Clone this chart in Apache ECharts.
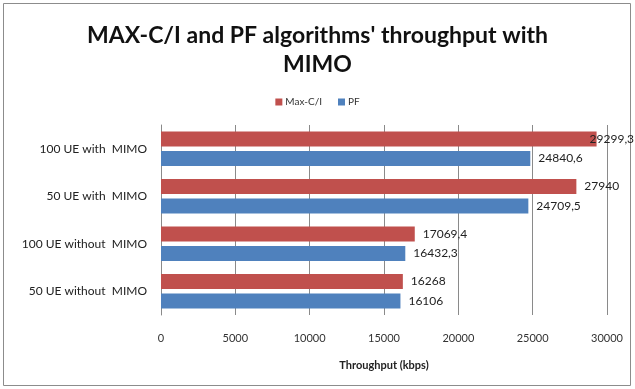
<!DOCTYPE html>
<html>
<head>
<meta charset="utf-8">
<script src="https://cdn.jsdelivr.net/npm/echarts@6/dist/echarts.min.js"></script>
<style>
  html, body { margin: 0; padding: 0; background: #fff; }
  #chart { width: 635px; height: 389px; }
</style>
</head>
<body>
<div id="chart"></div>
<script>
// Scenario categories, listed bottom to top along the value bars
const categories = ['50 UE without  MIMO', '100 UE without  MIMO', '50 UE with  MIMO', '100 UE with  MIMO'];
// Throughput per scenario (kbps)
const maxCI = [16268, 17069.4, 27940, 29299.3];
const pf = [16106, 16432.3, 24709.5, 24840.6];
const xTicks = [0, 5000, 10000, 15000, 20000, 25000, 30000];

const FONT = 'Lato, "Open Sans", sans-serif';
const fmt = v => String(v).replace('.', ',');

function labelled(values, topIndex) {
  return values.map((v, i) => {
    const item = { value: v };
    // the longest bar's label is pulled back over the bar end to stay in frame
    if (i === topIndex) item.label = { offset: [-15, 0] };
    return item;
  });
}

const valueLabel = {
  show: true, position: 'right', distance: 8,
  fontFamily: FONT, fontSize: 12, color: '#222',
  formatter: p => fmt(p.value)
};

const chart = echarts.init(document.getElementById('chart'));
chart.setOption({
  animation: false,
  backgroundColor: '#fff',
  title: {
    text: "MAX-C/I and PF algorithms' throughput with\nMIMO",
    left: 'center',
    top: 16,
    textStyle: { fontFamily: FONT, fontSize: 23, fontWeight: 'bold', color: '#111', lineHeight: 29 }
  },
  legend: {
    data: ['Max-C/I', 'PF'],
    top: 92,
    left: 'center',
    itemWidth: 7,
    itemHeight: 7,
    itemGap: 16,
    icon: 'rect',
    textStyle: { fontFamily: FONT, fontSize: 10, color: '#333', padding: [0, 0, 0, -2] }
  },
  grid: { left: 161, right: 28, top: 125, bottom: 74 },
  xAxis: {
    type: 'value',
    min: 0,
    max: xTicks[xTicks.length - 1],
    interval: xTicks[1] - xTicks[0],
    name: 'Throughput (kbps)',
    nameLocation: 'middle',
    nameGap: 45,
    nameTextStyle: { fontFamily: FONT, fontSize: 11, fontWeight: 'bold', color: '#222' },
    axisLine: { show: false },
    axisTick: { show: false },
    axisLabel: { fontFamily: FONT, fontSize: 11, color: '#333', margin: 18, formatter: v => String(v) },
    splitLine: { show: true, lineStyle: { color: '#8a8a8a', width: 1 } }
  },
  yAxis: {
    type: 'category',
    data: categories,
    axisLine: { show: true, lineStyle: { color: '#8a8a8a' } },
    axisTick: { show: false },
    axisLabel: { fontFamily: FONT, fontSize: 12, color: '#222', margin: 14 }
  },
  series: [
    {
      name: 'Max-C/I',
      type: 'bar',
      data: labelled(maxCI, 3),
      barWidth: 15,
      barGap: '30%',
      itemStyle: { color: '#C0504D' },
      label: valueLabel
    },
    {
      name: 'PF',
      type: 'bar',
      data: labelled(pf, -1),
      barWidth: 15,
      barGap: '30%',
      itemStyle: { color: '#4F81BD' },
      label: valueLabel
    }
  ],
  graphic: [{
    type: 'rect',
    shape: { x: 3.5, y: 3.5, width: 627, height: 382 },
    style: { fill: null, stroke: '#8c8c8c', lineWidth: 1 },
    silent: true
  }]
});
</script>
</body>
</html>
